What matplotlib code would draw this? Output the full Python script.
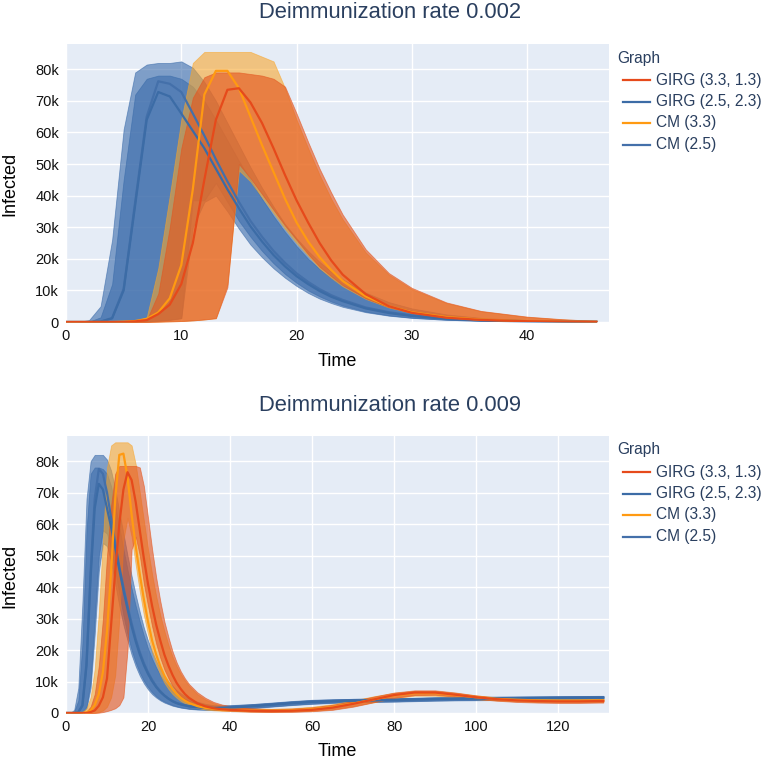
import matplotlib
matplotlib.use('Agg')
import matplotlib.pyplot as plt
from matplotlib.lines import Line2D
from matplotlib.ticker import FuncFormatter

plt.rcParams['font.family'] = ['Liberation Sans', 'DejaVu Sans']

# ---------------- data (values in thousands) ----------------
series_names = ['GIRG (3.3, 1.3)', 'GIRG (2.5, 2.3)', 'CM (3.3)', 'CM (2.5)']

# Top: deimmunization rate 0.002
t_top = list(range(25)) + [26, 28, 30, 33, 36, 40, 43, 46]

girg33_mean_top = [0, 0, 0, 0, 0, 0, 0.2, 0.6, 2.5, 5.5, 12, 25, 45, 64, 73.5, 74, 69.5, 63, 55, 46.5, 38.5, 31.5, 25, 19.5, 15,
                   8.8, 5, 2.9, 1.35, 0.65, 0.25, 0.12, 0.05]
girg33_lo_top = [0, 0, 0, 0, 0, 0, 0, 0, 0.1, 0.2, 0.3, 0.5, 0.8, 1.2, 11, 50, 45.5, 40.5, 35.5, 30.5, 26, 21.5, 17.5, 14.5, 11.7,
                 7.5, 4.7, 3.0, 1.55, 0.82, 0.34, 0.17, 0.08]
girg33_hi_top = [0, 0, 0, 0, 0, 0, 0.2, 0.6, 9, 30, 55, 71, 77.5, 79, 79, 79, 78.5, 78, 77, 74.5, 66, 57, 48.5, 41, 34,
                 23, 15.5, 10.8, 6.2, 3.5, 1.7, 0.9, 0.35]

girg25_mean_top = [0, 0, 0, 0.1, 1.2, 10, 37, 64, 72.8, 71.4, 66, 60.5, 55, 48.5, 42, 36, 30.3, 25.5, 21.2, 17.6, 14.5, 12, 9.8, 8, 6.6,
                   4.3, 2.85, 1.9, 1.0, 0.53, 0.23, 0.12, 0.06]
girg25_lo_top = [0, 0, 0, 0, 0, 0, 0.1, 0.2, 0.4, 0.7, 1.2, 30, 38, 40, 35, 29.5, 24.5, 20.5, 17, 14, 11.4, 9.2, 7.4, 6, 4.8,
                 3.1, 2, 1.3, 0.7, 0.37, 0.16, 0.08, 0.04]
girg25_hi_top = [0, 0, 0.1, 1.5, 12, 45, 72, 77, 78, 78, 77, 74.5, 70, 64, 57.5, 51, 45, 39, 33.5, 28.5, 24, 20, 16.8, 14, 11.6,
                 7.9, 5.3, 3.6, 1.95, 1.05, 0.45, 0.23, 0.11]

cm33_mean_top = [0, 0, 0, 0, 0, 0.1, 0.3, 1, 3, 7.5, 18, 42, 72, 79.5, 79.5, 74, 65, 56, 47.5, 39, 31.5, 25.5, 20.5, 16.5, 13,
                 8.1, 5, 3.1, 1.55, 0.75, 0.29, 0.14, 0.07]
cm33_lo_top = [0, 0, 0, 0, 0, 0, 0, 0, 0.1, 0.2, 0.3, 0.5, 0.8, 1.2, 12, 48, 44.5, 39.5, 34.5, 29.5, 25, 21, 17, 14, 11.3,
               7.3, 4.6, 2.9, 1.5, 0.8, 0.33, 0.17, 0.08]
cm33_hi_top = [0, 0, 0, 0, 0, 0.1, 0.3, 1.5, 17, 40, 64, 82, 85.5, 85.5, 85.5, 85.5, 85.5, 84, 82.5, 74, 64, 55, 46.5, 39, 32.5,
               22, 15, 10.4, 6, 3.4, 1.6, 0.85, 0.33]

cm25_mean_top = [0, 0, 0, 0.1, 1.2, 10.5, 38, 65, 76.2, 75.4, 72.8, 66, 59, 51.5, 44.5, 38, 32, 27, 22.5, 18.7, 15.4, 12.7, 10.4, 8.5, 7.0,
                 4.6, 3.1, 2.1, 1.15, 0.62, 0.27, 0.15, 0.08]
cm25_lo_top = [0, 0, 0, 0, 0, 0, 0.1, 0.2, 0.4, 0.7, 1.2, 38.5, 38.5, 44, 38, 32, 27, 22.5, 18.6, 15.2, 12.4, 10, 8.1, 6.5, 5.2,
               3.3, 2.1, 1.35, 0.7, 0.37, 0.16, 0.08, 0.04]
cm25_hi_top = [0, 0, 0.6, 5, 26, 61, 79, 81.5, 82, 82, 82.5, 80.5, 76, 70, 63, 56, 49, 42.5, 36.5, 31, 26.5, 22.5, 19, 16, 13.5,
               9.3, 6.3, 4.3, 2.4, 1.3, 0.55, 0.29, 0.14]

# Bottom: deimmunization rate 0.009
t_bot = list(range(31)) + [32, 34, 36, 38, 40, 45, 50, 55, 60, 65, 70, 75, 80, 85, 90, 95, 100, 105, 110, 115, 120, 125, 130, 131]

girg33_mean_bot = [0, 0, 0, 0, 0, 0, 0.3, 0.8, 2.3, 5, 11, 28, 45, 60, 71, 76.5, 74, 67, 58, 49, 41, 34, 28, 23, 18.5, 15, 12, 9.5, 7.6, 6, 4.8,
                   3.1, 2.1, 1.5, 1.2, 1.0, 0.7, 0.6, 0.7, 1.0, 1.7, 2.9, 4.3, 5.7, 6.5, 6.5, 5.8, 5.0, 4.4, 4.0, 3.8, 3.7, 3.7, 3.8, 3.8]
girg33_lo_bot = [0, 0, 0, 0, 0, 0, 0, 0, 0.1, 0.3, 0.6, 1, 1.5, 2.5, 5, 20, 52, 56, 50, 41, 34, 27.5, 22, 17.5, 13.8, 11, 8.6, 6.8, 5.4, 4.3, 3.4,
                 2.2, 1.5, 1.1, 0.85, 0.7, 0.4, 0.3, 0.35, 0.55, 1.0, 2.0, 3.4, 4.8, 5.7, 5.8, 5.2, 4.5, 3.9, 3.5, 3.3, 3.2, 3.2, 3.3, 3.3]
girg33_hi_bot = [0, 0, 0, 0, 0, 0.5, 2, 6, 15, 30, 50, 66, 76, 78.5, 78.5, 78.5, 78.5, 78.5, 78, 72, 62, 52, 43, 35.5, 29, 24, 19.5, 16, 13.2, 11, 9.2,
                 6.6, 4.8, 3.5, 2.7, 2.2, 1.5, 1.3, 1.4, 1.8, 2.6, 3.8, 5.2, 6.5, 7.2, 7.2, 6.5, 5.6, 4.9, 4.5, 4.3, 4.2, 4.2, 4.3, 4.3]

girg25_mean_bot = [0, 0, 0, 0.2, 2.3, 15, 43, 65, 72.8, 71, 65, 59, 52.5, 45.5, 39, 33, 27.5, 22.7, 18.6, 15.2, 12.4, 10.1, 8.2, 6.7, 5.5, 4.5, 3.7, 3.1, 2.7, 2.4, 2.1,
                   1.8, 1.6, 1.5, 1.6, 1.7, 2.1, 2.6, 3.1, 3.5, 3.7, 3.9, 4.0, 4.1, 4.25, 4.4, 4.5, 4.55, 4.6, 4.65, 4.7, 4.75, 4.8, 4.85, 4.85]
girg25_lo_bot = [0, 0, 0, 0, 0.1, 1.5, 8, 25, 45, 54, 53, 48, 41, 34, 28, 23, 18.5, 14.8, 11.8, 9.4, 7.5, 6, 4.9, 4, 3.3, 2.8, 2.3, 2, 1.7, 1.5, 1.3,
                 1.1, 1.0, 0.95, 1.0, 1.1, 1.5, 2.0, 2.5, 2.9, 3.2, 3.4, 3.5, 3.6, 3.75, 3.9, 4.0, 4.05, 4.1, 4.15, 4.2, 4.25, 4.3, 4.35, 4.35]
girg25_hi_bot = [0, 0, 0.5, 4, 22, 58, 76, 78, 78, 77.5, 76, 72, 66, 59, 52, 45.5, 39.5, 34, 29, 24.5, 20.5, 17.2, 14.4, 12, 10, 8.5, 7.2, 6.1, 5.2, 4.5, 3.9,
                 3.1, 2.6, 2.3, 2.3, 2.4, 2.8, 3.3, 3.8, 4.2, 4.4, 4.5, 4.6, 4.7, 4.8, 4.95, 5.05, 5.1, 5.15, 5.2, 5.25, 5.3, 5.35, 5.4, 5.4]

cm33_mean_bot = [0, 0, 0, 0, 0, 0.2, 0.8, 2.5, 6, 13, 26, 45, 68, 82, 82.4, 75, 63, 53, 44, 36, 29, 23, 18.5, 14.8, 11.8, 9.4, 7.5, 6, 4.8, 3.9, 3.2,
                 2.2, 1.6, 1.3, 1.1, 1.0, 0.8, 0.75, 0.85, 1.2, 1.9, 3.0, 4.3, 5.6, 6.3, 6.3, 5.7, 5.0, 4.5, 4.2, 4.0, 3.9, 3.9, 4.0, 4.0]
cm33_lo_bot = [0, 0, 0, 0, 0, 0, 0, 0.1, 0.3, 0.8, 2, 5, 12, 30, 55, 62, 56, 47, 38.5, 31, 25, 19.5, 15.5, 12.2, 9.6, 7.6, 6, 4.8, 3.8, 3.1, 2.5,
               1.6, 1.1, 0.85, 0.7, 0.6, 0.45, 0.4, 0.5, 0.7, 1.2, 2.2, 3.4, 4.7, 5.5, 5.5, 5.0, 4.4, 4.0, 3.7, 3.5, 3.4, 3.4, 3.5, 3.5]
cm33_hi_bot = [0, 0, 0, 0, 0.3, 1.5, 5, 14, 32, 55, 78, 85, 86, 86, 86, 86, 85, 79, 70, 61, 52, 44, 37, 31, 26, 21.5, 17.8, 14.8, 12.3, 10.3, 8.6,
               6, 4.3, 3.1, 2.3, 1.9, 1.4, 1.3, 1.5, 2.0, 2.8, 4.0, 5.3, 6.4, 7.0, 7.0, 6.4, 5.6, 5.0, 4.7, 4.5, 4.4, 4.4, 4.5, 4.5]

cm25_mean_bot = [0, 0, 0, 0.2, 2.5, 16, 45, 68, 77.5, 76, 70, 62, 54, 46.5, 40, 34, 28.5, 23.5, 19.3, 15.8, 12.9, 10.5, 8.5, 6.9, 5.6, 4.6, 3.8, 3.2, 2.8, 2.5, 2.2,
                 1.9, 1.7, 1.6, 1.7, 1.8, 2.2, 2.7, 3.2, 3.6, 3.8, 4.0, 4.1, 4.2, 4.35, 4.5, 4.6, 4.65, 4.7, 4.75, 4.8, 4.85, 4.9, 4.95, 4.95]
cm25_lo_bot = [0, 0, 0, 0, 0.2, 2, 10, 30, 50, 58, 57, 52, 45, 38, 31, 25, 20, 16, 12.8, 10.2, 8.2, 6.6, 5.3, 4.3, 3.6, 3, 2.5, 2.1, 1.8, 1.6, 1.4,
               1.2, 1.1, 1.0, 1.1, 1.2, 1.6, 2.1, 2.6, 3.0, 3.3, 3.5, 3.6, 3.7, 3.85, 4.0, 4.1, 4.15, 4.2, 4.25, 4.3, 4.35, 4.4, 4.45, 4.45]
cm25_hi_bot = [0, 0, 1, 8, 35, 68, 80, 82, 82, 82, 80.5, 77, 71, 64, 57, 50, 43.5, 37.5, 32, 27, 23, 19.5, 16.5, 14, 11.8, 10, 8.5, 7.2, 6.2, 5.3, 4.6,
               3.6, 2.9, 2.5, 2.4, 2.5, 2.8, 3.2, 3.7, 4.1, 4.3, 4.5, 4.6, 4.7, 4.85, 5.0, 5.1, 5.15, 5.2, 5.25, 5.3, 5.35, 5.4, 5.45, 5.45]

# ---------------- styling ----------------
line_colors = {'GIRG (3.3, 1.3)': '#E64A1B', 'GIRG (2.5, 2.3)': '#3C6CA6',
               'CM (3.3)': '#FF9A12', 'CM (2.5)': '#4470AA'}
fill_colors = {'GIRG (3.3, 1.3)': ('#E4561F', 0.62), 'GIRG (2.5, 2.3)': ('#3A6BAA', 0.6),
               'CM (3.3)': ('#F8A52A', 0.58), 'CM (2.5)': ('#3A6BAA', 0.6)}

BG = '#E5ECF6'
TXT = '#2A3F5F'
W, H = 768, 760

fig = plt.figure(figsize=(W / 100, H / 100), dpi=100)


def fx(px):
    return px / W


def fy(py):
    return 1 - py / H


def kfmt(v, pos):
    if v == 0:
        return '0'
    return f'{int(round(v / 1000))}k'


panels = [
    dict(top=44, bottom=322, t=t_top, xlim=(0, 47.1), xticks=[0, 10, 20, 30, 40],
         title='Deimmunization rate 0.002',
         data={'GIRG (3.3, 1.3)': (girg33_mean_top, girg33_lo_top, girg33_hi_top),
               'GIRG (2.5, 2.3)': (girg25_mean_top, girg25_lo_top, girg25_hi_top),
               'CM (3.3)': (cm33_mean_top, cm33_lo_top, cm33_hi_top),
               'CM (2.5)': (cm25_mean_top, cm25_lo_top, cm25_hi_top)}),
    dict(top=436, bottom=713, t=t_bot, xlim=(0, 132.4), xticks=[0, 20, 40, 60, 80, 100, 120],
         title='Deimmunization rate 0.009',
         data={'GIRG (3.3, 1.3)': (girg33_mean_bot, girg33_lo_bot, girg33_hi_bot),
               'GIRG (2.5, 2.3)': (girg25_mean_bot, girg25_lo_bot, girg25_hi_bot),
               'CM (3.3)': (cm33_mean_bot, cm33_lo_bot, cm33_hi_bot),
               'CM (2.5)': (cm25_mean_bot, cm25_lo_bot, cm25_hi_bot)}),
]

fill_order = ['GIRG (2.5, 2.3)', 'CM (2.5)', 'CM (3.3)', 'GIRG (3.3, 1.3)']
line_order = ['CM (2.5)', 'GIRG (2.5, 2.3)', 'CM (3.3)', 'GIRG (3.3, 1.3)']

for p in panels:
    left, right = 66, 609
    ax = fig.add_axes([fx(left), fy(p['bottom']), fx(right - left), (p['bottom'] - p['top']) / H])
    ax.set_facecolor(BG)
    for s in ax.spines.values():
        s.set_visible(False)
    ax.set_axisbelow(True)
    ax.grid(True, color='white', lw=1.0)
    ax.tick_params(length=0, labelsize=10.5, labelcolor='#111111', pad=5)
    ax.set_xlim(*p['xlim'])
    ax.set_ylim(0, 88000)
    ax.set_xticks(p['xticks'])
    ax.set_yticks(range(0, 80001, 10000))
    ax.yaxis.set_major_formatter(FuncFormatter(kfmt))
    t = p['t']
    z = 1
    for name in fill_order:
        mean, lo, hi = p['data'][name]
        c, a = fill_colors[name]
        ax.fill_between(t, [v * 1000 for v in lo], [v * 1000 for v in hi], color=c, alpha=a,
                        lw=0.6, edgecolor=c, zorder=z)
        z += 1
    for name in line_order:
        mean, lo, hi = p['data'][name]
        ax.plot(t, [v * 1000 for v in mean], color=line_colors[name], lw=1.6, zorder=10,
                solid_joinstyle='round')

    # titles and axis labels
    fig.text(fx(390), fy(p['top'] - 31), p['title'], ha='center', va='center', fontsize=15.8, color=TXT)
    fig.text(fx(337), fy(p['bottom'] + 39), 'Time', ha='center', va='center', fontsize=13, color='black')
    fig.text(fx(10), fy((p['top'] + p['bottom']) / 2 + 1), 'Infected', ha='center', va='center',
             rotation=90, fontsize=13, color='black')

    # legend
    fig.text(fx(617), fy(p['top'] + 14), 'Graph', ha='left', va='center', fontsize=11.2, color=TXT)
    for i, name in enumerate(series_names):
        yy = p['top'] + 36 + i * 21.5
        fig.add_artist(Line2D([fx(623), fx(650)], [fy(yy), fy(yy)], color=line_colors[name], lw=1.6))
        fig.text(fx(656), fy(yy), name, ha='left', va='center', fontsize=11.2, color=TXT)

fig.savefig('out.png', dpi=100, facecolor='white')
